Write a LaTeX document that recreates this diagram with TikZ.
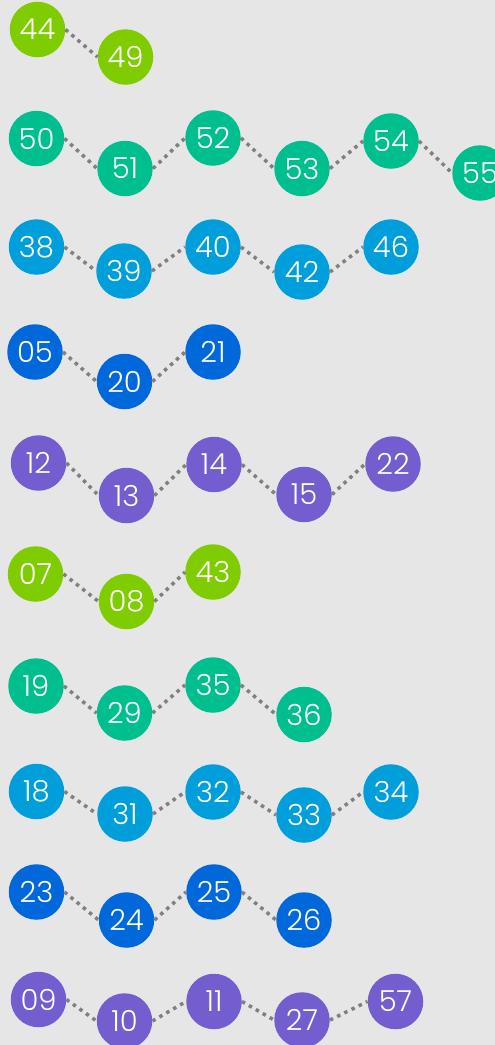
\documentclass[tikz,border=0pt]{standalone}
\usepackage{fontspec}
\setmainfont{Poppins}[UprightFont=* Light]
\definecolor{bg}{RGB}{230,230,230}
\definecolor{cLime}{RGB}{127,204,0}
\definecolor{cTeal}{RGB}{0,191,143}
\definecolor{cSky}{RGB}{0,158,219}
\definecolor{cBlue}{RGB}{0,104,219}
\definecolor{cPurple}{RGB}{116,94,207}
\definecolor{dotgray}{RGB}{128,128,128}
\begin{document}
\begin{tikzpicture}[x=1pt,y=-1pt,
  ball/.style={circle,fill=#1,text=white,minimum size=55.5pt,inner sep=0pt,font=\fontsize{29}{29}\selectfont},
  link/.style={draw=dotgray,line width=3.5pt,dash pattern=on 3.5pt off 4.5pt}]
\useasboundingbox (0,0) rectangle (495,1045);
\fill[bg] (0,0) rectangle (495,1045);
\clip (0,0) rectangle (495,1045);
% row 1
\node[ball=cLime] (n44) at (37.5,29.5) {44};
\node[ball=cLime] (n49) at (125.5,57) {49};
% row 2
\node[ball=cTeal] (n50) at (36.5,138.5) {50};
\node[ball=cTeal] (n51) at (125,168.5) {51};
\node[ball=cTeal] (n52) at (213,138) {52};
\node[ball=cTeal] (n53) at (302,168.5) {53};
\node[ball=cTeal] (n54) at (391,141) {54};
\node[ball=cTeal] (n55) at (480,173) {55};
% row 3
\node[ball=cSky] (n38) at (36.5,247) {38};
\node[ball=cSky] (n39) at (124,271) {39};
\node[ball=cSky] (n40) at (213,247) {40};
\node[ball=cSky] (n42) at (302,272) {42};
\node[ball=cSky] (n46) at (391,247) {46};
% row 4
\node[ball=cBlue] (n05) at (35,352) {05};
\node[ball=cBlue] (n20) at (124.5,381.5) {20};
\node[ball=cBlue] (n21) at (213,352) {21};
% row 5
\node[ball=cPurple] (n12) at (38.5,463) {12};
\node[ball=cPurple] (n13) at (126.5,495.5) {13};
\node[ball=cPurple] (n14) at (214,464.5) {14};
\node[ball=cPurple] (n15) at (304,494.5) {15};
\node[ball=cPurple] (n22) at (393,464) {22};
% row 6
\node[ball=cLime] (n07) at (35.5,574) {07};
\node[ball=cLime] (n08) at (126.5,601.5) {08};
\node[ball=cLime] (n43) at (213,572) {43};
% row 7
\node[ball=cTeal] (n19) at (36,686) {19};
\node[ball=cTeal] (n29) at (124.5,713) {29};
\node[ball=cTeal] (n35) at (213,685) {35};
\node[ball=cTeal] (n36) at (304,714.5) {36};
% row 8
\node[ball=cSky] (n18) at (36.5,791.5) {18};
\node[ball=cSky] (n31) at (125,814) {31};
\node[ball=cSky] (n32) at (213,792) {32};
\node[ball=cSky] (n33) at (304,815) {33};
\node[ball=cSky] (n34) at (391,792) {34};
% row 9
\node[ball=cBlue] (n23) at (36.5,892) {23};
\node[ball=cBlue] (n24) at (126.5,920) {24};
\node[ball=cBlue] (n25) at (214,892) {25};
\node[ball=cBlue] (n26) at (304,920) {26};
% row 10
\node[ball=cPurple] (n09) at (38.5,999.5) {09};
\node[ball=cPurple] (n10) at (124.5,1021) {10};
\node[ball=cPurple] (n11) at (214,1001.5) {11};
\node[ball=cPurple] (n27) at (302,1020) {27};
\node[ball=cPurple] (n57) at (395.5,1001.5) {57};
% links
\foreach \a/\b in {44/49,50/51,51/52,52/53,53/54,54/55,38/39,39/40,40/42,42/46,05/20,20/21,12/13,13/14,14/15,15/22,07/08,08/43,19/29,29/35,35/36,18/31,31/32,32/33,33/34,23/24,24/25,25/26,09/10,10/11,11/27,27/57}
  \draw[link] (n\a.east) -- (n\b.west);
\end{tikzpicture}
\end{document}
